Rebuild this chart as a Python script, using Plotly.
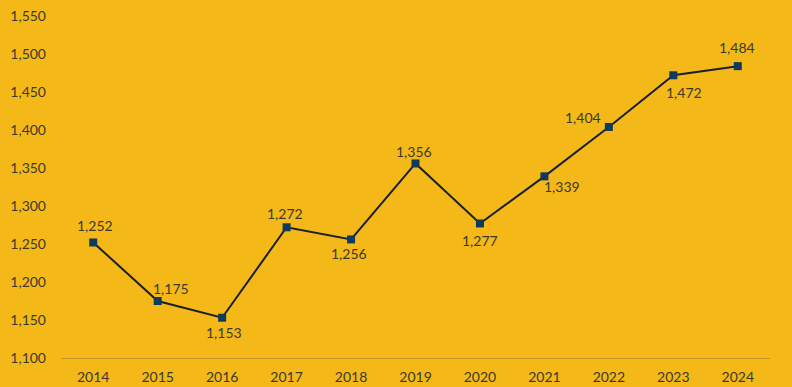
import plotly.graph_objects as go

years = ["2014", "2015", "2016", "2017", "2018", "2019", "2020", "2021", "2022", "2023", "2024"]
values = [1252, 1175, 1153, 1272, 1256, 1356, 1277, 1339, 1404, 1472, 1484]
y_ticks = [1100, 1150, 1200, 1250, 1300, 1350, 1400, 1450, 1500, 1550]

# label offsets (pixels) relative to each marker: style only
label_dx = [2, 13, 2, -2, -2, -2, 0, 18, -26, 11, -1]
label_dy = [-17, -13, 15, -14, 14, -12, 17, 10, -9, 17, -19]

bg = "#F5B819"
txt = "#3a3a2a"
font_family = "Lato, 'Open Sans', sans-serif"

fig = go.Figure()
fig.add_trace(go.Scatter(
    x=years, y=values,
    mode="lines+markers",
    line=dict(color="#1b1f2a", width=2),
    marker=dict(symbol="square", size=8, color="#0E3A5C"),
    showlegend=False,
    hoverinfo="skip",
))

for i, (yr, v, dx, dy) in enumerate(zip(years, values, label_dx, label_dy)):
    fig.add_annotation(
        x=i, y=v, xref="x", yref="y", text=f"{v:,}", showarrow=False,
        xanchor="center", yanchor="middle",
        xshift=dx, yshift=-dy,
        font=dict(family=font_family, size=14, color=txt),
    )

fig.update_layout(
    width=792, height=387,
    paper_bgcolor=bg, plot_bgcolor=bg,
    margin=dict(l=61, r=22, t=16, b=29),
    font=dict(family=font_family, size=14, color=txt),
    xaxis=dict(
        type="category", range=[-0.5, 10.5], automargin=False,
        showgrid=False, zeroline=False,
        showline=True, linecolor="#C8922A", linewidth=1,
        ticks="", ticklabelstandoff=6, tickfont=dict(size=14, color=txt),
    ),
    yaxis=dict(
        range=[1100, 1550], tickvals=y_ticks, automargin=False,
        tickformat=",", showgrid=False, zeroline=False,
        showline=False, ticks="", ticklabelstandoff=14,
        tickfont=dict(size=14, color=txt),
    ),
)

fig.write_html("out.html", config={"displayModeBar": False},
               post_script="document.body.style.margin='0';")
